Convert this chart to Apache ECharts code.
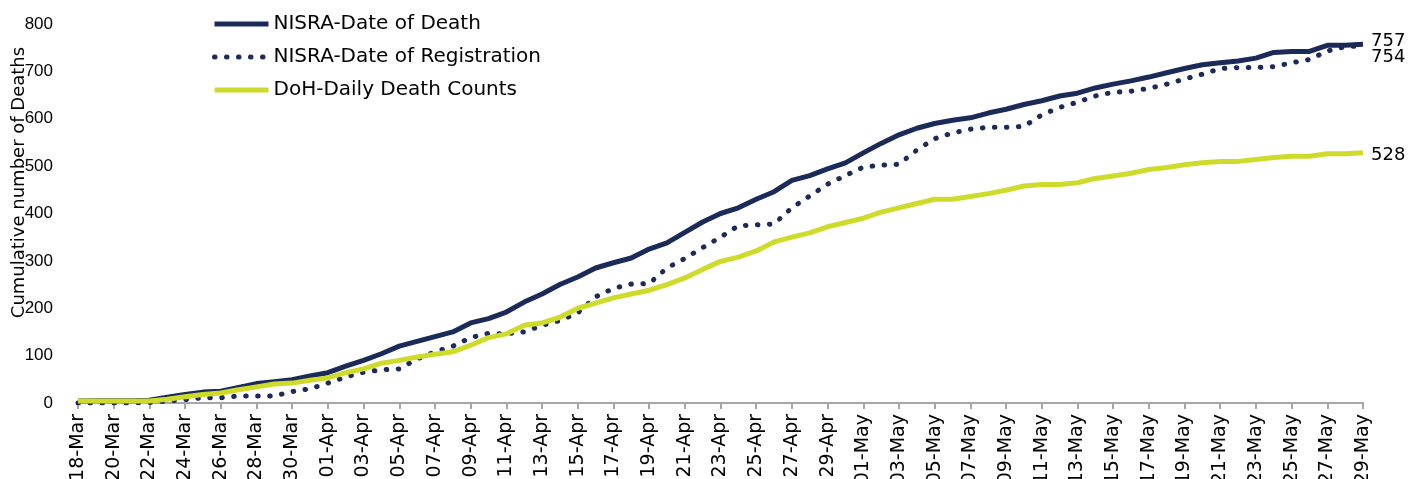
<!DOCTYPE html>
<html>
<head>
<meta charset="utf-8">
<script src="https://cdn.jsdelivr.net/npm/echarts@6/dist/echarts.min.js"></script>
<style>
  html, body { margin: 0; padding: 0; background: #fff; }
  #chart { width: 1419px; height: 479px; }
</style>
</head>
<body>
<div id="chart"></div>
<script>
// days from 18-Mar to 29-May
const dates = [
  '18-Mar', '19-Mar', '20-Mar', '21-Mar', '22-Mar', '23-Mar', '24-Mar', '25-Mar', '26-Mar', '27-Mar',
  '28-Mar', '29-Mar', '30-Mar', '31-Mar', '01-Apr', '02-Apr', '03-Apr', '04-Apr', '05-Apr', '06-Apr',
  '07-Apr', '08-Apr', '09-Apr', '10-Apr', '11-Apr', '12-Apr', '13-Apr', '14-Apr', '15-Apr', '16-Apr',
  '17-Apr', '18-Apr', '19-Apr', '20-Apr', '21-Apr', '22-Apr', '23-Apr', '24-Apr', '25-Apr', '26-Apr',
  '27-Apr', '28-Apr', '29-Apr', '30-Apr', '01-May', '02-May', '03-May', '04-May', '05-May', '06-May',
  '07-May', '08-May', '09-May', '10-May', '11-May', '12-May', '13-May', '14-May', '15-May', '16-May',
  '17-May', '18-May', '19-May', '20-May', '21-May', '22-May', '23-May', '24-May', '25-May', '26-May',
  '27-May', '28-May', '29-May',
]

const dateOfDeath = [
  4, 5, 5, 5, 6, 12, 18, 23, 25, 33,
  41, 45, 49, 57, 64, 78, 90, 104, 120, 130,
  140, 150, 169, 178, 192, 213, 230, 250, 266, 285,
  296, 306, 325, 338, 360, 382, 400, 412, 430, 446,
  470, 480, 494, 507, 528, 548, 566, 580, 590, 597,
  602, 612, 620, 630, 638, 648, 654, 665, 673, 680,
  688, 697, 706, 714, 718, 722, 728, 740, 742, 742,
  755, 755, 757,
]

const dateOfRegistration = [
  0, 0, 0, 0, 1, 4, 7, 11, 11, 15,
  15, 15, 24, 30, 42, 55, 65, 70, 72, 93,
  108, 120, 138, 147, 146, 150, 164, 174, 190, 224,
  242, 251, 252, 285, 305, 328, 350, 374, 376, 378,
  412, 437, 462, 480, 498, 502, 504, 534, 558, 570,
  578, 582, 582, 584, 608, 624, 635, 648, 656, 658,
  664, 673, 684, 694, 706, 708, 708, 710, 718, 725,
  743, 752, 754,
]

const dohDaily = [
  4, 4, 4, 4, 4, 8, 13, 18, 21, 28,
  34, 40, 42, 48, 53, 64, 72, 84, 90, 97,
  103, 108, 122, 138, 146, 164, 169, 181, 200, 211,
  222, 230, 238, 250, 264, 282, 299, 308, 321, 340,
  350, 359, 372, 381, 390, 403, 412, 421, 430, 430,
  436, 442, 449, 458, 461, 461, 465, 474, 479, 485,
  493, 497, 503, 507, 510, 510, 514, 518, 521, 521,
  526, 526, 528,
]

const NAVY = '#1c2a5a'
const LIME = '#cfdb2a'
const FONT = 'DejaVu Sans'

function endLabel(offsetY) {
  return {
    show: true,
    formatter: '{c}',
    color: '#000',
    fontFamily: FONT,
    fontSize: 18,
    distance: 8,
    offset: [0, offsetY],
  }
}

const chart = echarts.init(document.getElementById('chart'))

chart.setOption({
  animation: false,
  textStyle: { fontFamily: FONT },
  legend: {
    orient: 'vertical',
    left: 207,
    top: 9,
    icon: 'inherit',
    itemWidth: 54,
    itemHeight: 14,
    itemGap: 13,
    itemStyle: { opacity: 0 },
    lineStyle: { width: 5 },
    textStyle: { color: '#000', fontSize: 20, fontFamily: FONT },
    data: ['NISRA-Date of Death', 'NISRA-Date of Registration', 'DoH-Daily Death Counts'],
  },
  grid: {
    left: 78,
    right: 56,
    top: 24,
    bottom: 76,
    outerBoundsMode: 'none',
  },
  xAxis: {
    type: 'category',
    data: dates,
    boundaryGap: false,
    axisLine: { lineStyle: { color: '#a6a6a6', width: 2 } },
    axisTick: { interval: 1, length: 6, lineStyle: { color: '#a6a6a6', width: 2 } },
    axisLabel: {
      interval: 1,
      rotate: 90,
      margin: 11,
      color: '#000',
      fontSize: 19,
      fontFamily: FONT,
    },
    splitLine: { show: false },
  },
  yAxis: {
    type: 'value',
    min: 0,
    max: 800,
    interval: 100,
    name: 'Cumulative number of Deaths',
    nameLocation: 'middle',
    nameGap: 50,
    nameMoveOverlap: false,
    nameTextStyle: { color: '#000', fontSize: 18, fontFamily: FONT, padding: [0, 0, 0, 62] },
    axisLine: { show: false },
    axisTick: { show: false },
    splitLine: { show: false },
    axisLabel: { color: '#000', fontSize: 17, fontFamily: 'Liberation Sans', margin: 25 },
  },
  series: [
    {
      name: 'NISRA-Date of Death',
      type: 'line',
      data: dateOfDeath,
      symbol: 'none',
      lineStyle: { color: NAVY, width: 5 },
      itemStyle: { color: NAVY },
      endLabel: endLabel(-3),
      z: 3,
    },
    {
      name: 'NISRA-Date of Registration',
      type: 'line',
      data: dateOfRegistration,
      symbol: 'none',
      lineStyle: { color: NAVY, width: 5, type: [0.5, 11.5], cap: 'round' },
      itemStyle: { color: NAVY },
      endLabel: endLabel(12),
      z: 2,
    },
    {
      name: 'DoH-Daily Death Counts',
      type: 'line',
      data: dohDaily,
      symbol: 'none',
      lineStyle: { color: LIME, width: 5 },
      itemStyle: { color: LIME },
      endLabel: endLabel(2),
      z: 4,
    },
  ],
})
</script>
</body>
</html>
